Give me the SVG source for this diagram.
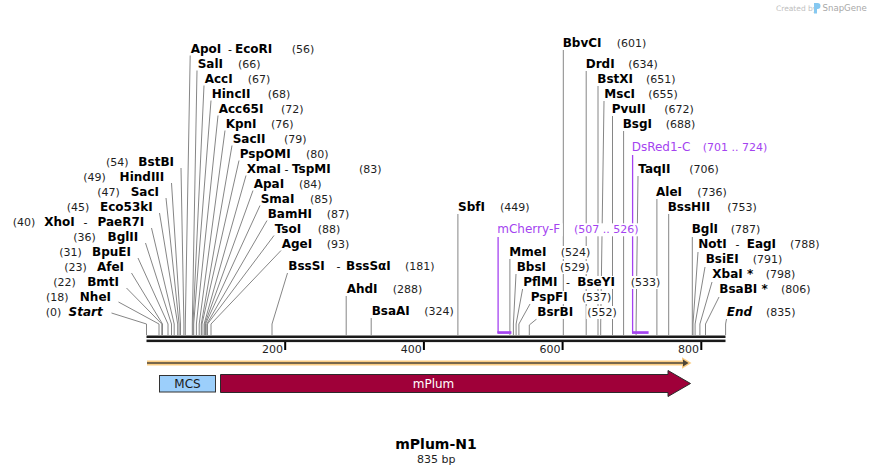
<svg xmlns="http://www.w3.org/2000/svg" width="873" height="475" viewBox="0 0 873 475">
<style>
text{font-family:"DejaVu Sans",Verdana,sans-serif}
.n{font-size:12px;font-weight:bold;fill:#000}
.d{font-size:11px;fill:#1e1e1e}
.e{text-anchor:end}
.m{text-anchor:middle}
.i{font-style:italic}
.p{fill:#a443f0}
.c{stroke:#868686;stroke-width:1;fill:none}
.pl{stroke:#a443f0;stroke-width:1.3;fill:none}
.bg{fill:#fff}
</style>
<rect width="873" height="475" fill="#fff"/>

<g id="watermark">
<text x="776" y="10.5" style="font-size:7.5px;fill:#c0c0c0">Created by</text>
<path d="M814,3 h3.5 a3,3 0 0 1 0,6 h-0.5 v4.5 h-3 z" fill="#86c8f0"/>
<text x="822.5" y="11" style="font-size:8.6px;fill:#a8a8a8">SnapGene</text>
</g>

<g id="connectors">
<path class="c" d="M181,168 L183.9,324 V335"/>
<path class="c" d="M171.5,183 L180.5,324 V335"/>
<path class="c" d="M166,198 L179.1,324 V335"/>
<path class="c" d="M159.5,213 L177.7,324 V335"/>
<path class="c" d="M151.5,228 L174.2,324 V335"/>
<path class="c" d="M145.5,243 L171.5,324 V335"/>
<path class="c" d="M138,258 L168,324 V335"/>
<path class="c" d="M131.5,273 L162.5,324 V335"/>
<path class="c" d="M126.5,288 L161.8,324 V335"/>
<path class="c" d="M118.5,302 L159,324 V335"/>
<path class="c" d="M111.5,313 L146.5,324 V335"/>
<path class="c" d="M190.2,55.5 L185.3,324 V335"/>
<path class="c" d="M197,70.5 L192.3,324 V335"/>
<path class="c" d="M204,85.5 L193,324 V335"/>
<path class="c" d="M211,100.5 L193.7,324 V335"/>
<path class="c" d="M218,115.5 L196.4,324 V335"/>
<path class="c" d="M225,130.5 L199.2,324 V335"/>
<path class="c" d="M232,145.5 L201.3,324 V335"/>
<path class="c" d="M239,160.5 L202,324 V335"/>
<path class="c" d="M246,175.5 L204.1,324 V335"/>
<path class="c" d="M253,190.5 L204.8,324 V335"/>
<path class="c" d="M260,205.5 L205.5,324 V335"/>
<path class="c" d="M267,220.5 L206.8,324 V335"/>
<path class="c" d="M274,235.5 L207.5,324 V335"/>
<path class="c" d="M281,250.5 L211,324 V335"/>
<path class="c" d="M287.5,273 L272,324 V335"/>
<path class="c" d="M346.2,296 V335"/>
<path class="c" d="M371.2,318 V335"/>
<path class="c" d="M457.9,214 V335"/>
<path class="c" d="M509.9,259 V335"/>
<path class="c" d="M516,274 L513.4,324 V335"/>
<path class="c" d="M522.6,289 L516.1,324 V335"/>
<path class="c" d="M530,304 L518.9,324 V335"/>
<path class="c" d="M536.6,319 L529.3,325 V335"/>
<path class="c" d="M563.3,50 V335"/>
<path class="c" d="M586.2,71 V335"/>
<path class="c" d="M598,86 V335"/>
<path class="c" d="M604,101 L600.7,324 V335"/>
<path class="c" d="M612.5,116 V335"/>
<path class="c" d="M623.6,131 V335"/>
<path class="c" d="M638,176 L636.1,324 V335"/>
<path class="c" d="M656.9,199 V335"/>
<path class="c" d="M668.7,214 V335"/>
<path class="c" d="M692.3,237 V335"/>
<path class="c" d="M698,252 L693,324 V335"/>
<path class="c" d="M705,267 L695.1,324 V335"/>
<path class="c" d="M712,282 L699.9,324 V335"/>
<path class="c" d="M719,297 L705.5,324 V335"/>
<path class="c" d="M726.5,319 L725.6,324 V335"/>
<path class="pl" d="M498.1,237 V333"/>
<rect x="497.4" y="331.2" width="14" height="2.7" fill="#a443f0"/>
<path class="pl" d="M632.6,155 V333"/>
<rect x="632" y="331.2" width="16.6" height="2.7" fill="#a443f0"/>
</g>

<g id="sequence">
<rect x="146.5" y="335.5" width="579" height="2.5" fill="#1a1a1a"/>
<rect x="146.5" y="339.6" width="579" height="2.5" fill="#1a1a1a"/>
<rect x="284.2" y="342" width="2" height="8" fill="#000"/>
<rect x="422.9" y="342" width="2" height="8" fill="#000"/>
<rect x="561.6" y="342" width="2" height="8" fill="#000"/>
<rect x="700.3" y="342" width="2" height="8" fill="#000"/>
<text class="d e" x="283" y="352.5">200</text>
<text class="d e" x="421.7" y="352.5">400</text>
<text class="d e" x="560.4" y="352.5">600</text>
<text class="d e" x="699.1" y="352.5">800</text>
</g>

<g id="orf">
<path d="M147,363 H684" stroke="#fbcd83" stroke-width="5" fill="none"/>
<polygon points="682,357.3 691.5,363 682,368.7" fill="#fbcd83"/>
<path d="M147,363 H684" stroke="#4d4538" stroke-width="1.5" fill="none"/>
<polygon points="683,359.6 688.6,363 683,366.4" fill="#4d4538"/>
</g>

<g id="feature-MCS">
<rect x="159.5" y="375.5" width="56" height="16.5" fill="#9ccffb" stroke="#333" stroke-width="1"/>
<text class="m" x="187.5" y="388" style="font-size:12px;fill:#1a1a1a">MCS</text>
</g>
<g id="feature-mPlum">
<polygon points="220.5,374.5 668,374.5 668,370.5 690.5,383.5 668,396.5 668,392.5 220.5,392.5" fill="#9f0039" stroke="#2a2a2a" stroke-width="1"/>
<text class="m" x="433.5" y="388" style="font-size:12px;fill:#fff">mPlum</text>
</g>

<g id="e-BstBI"><text class="d" x="106" y="165.5">(54)</text><text class="n e" x="174" y="165.5">BstBI</text></g>
<g id="e-HindIII"><text class="d" x="83.3" y="180.5">(49)</text><text class="n e" x="164.3" y="180.5">HindIII</text></g>
<g id="e-SacI"><text class="d" x="97.3" y="195.5">(47)</text><text class="n e" x="159" y="195.5">SacI</text></g>
<g id="e-Eco53kI"><text class="d" x="66.7" y="210.5">(45)</text><text class="n e" x="152.7" y="210.5">Eco53kI</text></g>
<g id="e-XhoI"><text class="d" x="12.7" y="225.5">(40)</text><text class="n" x="44.3" y="225.5">XhoI</text><text class="d" x="83.5" y="225.5" style="fill:#000">-</text><text class="n e" x="144.3" y="225.5">PaeR7I</text></g>
<g id="e-BglII"><text class="d" x="73.3" y="240.5">(36)</text><text class="n e" x="138.3" y="240.5">BglII</text></g>
<g id="e-BpuEI"><text class="d" x="59.3" y="255.5">(31)</text><text class="n e" x="131" y="255.5">BpuEI</text></g>
<g id="e-AfeI"><text class="d" x="64.3" y="270.5">(23)</text><text class="n e" x="124" y="270.5">AfeI</text></g>
<g id="e-BmtI"><text class="d" x="53.3" y="285.5">(22)</text><text class="n e" x="119" y="285.5">BmtI</text></g>
<g id="e-NheI"><text class="d" x="46" y="300.5">(18)</text><text class="n e" x="111" y="300.5">NheI</text></g>
<g id="e-Start"><text class="d" x="45.7" y="315.5">(0)</text><text class="n e i" x="102.7" y="315.5">Start</text></g>

<g id="e-ApoI"><text class="n" x="190.7" y="52.5">ApoI</text><text class="d" x="228" y="52.5" style="fill:#000">-</text><text class="n" x="235" y="52.5">EcoRI</text><text class="d" x="291.7" y="52.5">(56)</text></g>
<g id="e-SalI"><text class="n" x="197.7" y="67.5">SalI</text><text class="d" x="238" y="67.5">(66)</text></g>
<g id="e-AccI"><text class="n" x="204.7" y="82.5">AccI</text><text class="d" x="247.7" y="82.5">(67)</text></g>
<g id="e-HincII"><text class="n" x="211.7" y="97.5">HincII</text><text class="d" x="267.7" y="97.5">(68)</text></g>
<g id="e-Acc65I"><text class="n" x="218.7" y="112.5">Acc65I</text><text class="d" x="281" y="112.5">(72)</text></g>
<g id="e-KpnI"><text class="n" x="225.7" y="127.5">KpnI</text><text class="d" x="271" y="127.5">(76)</text></g>
<g id="e-SacII"><text class="n" x="232.7" y="142.5">SacII</text><text class="d" x="284" y="142.5">(79)</text></g>
<g id="e-PspOMI"><text class="n" x="239.7" y="157.5">PspOMI</text><text class="d" x="306" y="157.5">(80)</text></g>
<g id="e-XmaI"><text class="n" x="246.7" y="172.5">XmaI</text><text class="d" x="284.5" y="172.5" style="fill:#000">-</text><text class="n" x="292" y="172.5">TspMI</text><text class="d" x="359" y="172.5">(83)</text></g>
<g id="e-ApaI"><text class="n" x="253.7" y="187.5">ApaI</text><text class="d" x="299" y="187.5">(84)</text></g>
<g id="e-SmaI"><text class="n" x="260.7" y="202.5">SmaI</text><text class="d" x="310" y="202.5">(85)</text></g>
<g id="e-BamHI"><text class="n" x="267.7" y="217.5">BamHI</text><text class="d" x="326.7" y="217.5">(87)</text></g>
<g id="e-TsoI"><text class="n" x="274.7" y="232.5">TsoI</text><text class="d" x="317.7" y="232.5">(88)</text></g>
<g id="e-AgeI"><text class="n" x="281.7" y="247.5">AgeI</text><text class="d" x="326.7" y="247.5">(93)</text></g>

<g id="e-BssSI"><rect class="bg" x="287.3" y="260" width="38.7" height="13"/><rect class="bg" x="345" y="260" width="47.7" height="13"/><rect class="bg" x="404" y="260" width="31" height="13"/><text class="n" x="288.3" y="270">BssSI</text><text class="d" x="336.5" y="270" style="fill:#000">-</text><text class="n" x="346" y="270">BssSαI</text><text class="d" x="405" y="270">(181)</text></g>
<g id="e-AhdI"><rect class="bg" x="345.7" y="283" width="33.6" height="13"/><rect class="bg" x="391.7" y="283" width="31.3" height="13"/><text class="n" x="346.7" y="293">AhdI</text><text class="d" x="392.7" y="293">(288)</text></g>
<g id="e-BsaAI"><rect class="bg" x="370.7" y="305" width="40.3" height="13"/><rect class="bg" x="423.3" y="305" width="31.7" height="13"/><text class="n" x="371.7" y="315">BsaAI</text><text class="d" x="424.3" y="315">(324)</text></g>
<g id="e-SbfI"><rect class="bg" x="457" y="201" width="30" height="13"/><rect class="bg" x="499" y="201" width="32" height="13"/><text class="n" x="458" y="211">SbfI</text><text class="d" x="500" y="211">(449)</text></g>

<g id="p-mCherry-F"><rect class="bg" x="496.3" y="223.3" width="66.4" height="13"/><rect class="bg" x="573" y="223.3" width="68" height="13"/><text class="p" x="497.3" y="233.3" style="font-size:12px">mCherry-F</text><text class="d p" x="574" y="233.3">(507 .. 526)</text></g>
<g id="e-MmeI"><rect class="bg" x="508.3" y="246" width="30.4" height="13"/><rect class="bg" x="559.7" y="246" width="31.3" height="13"/><text class="n" x="509.3" y="256">MmeI</text><text class="d" x="560.7" y="256">(524)</text></g>
<g id="e-BbsI"><rect class="bg" x="515.7" y="261" width="32" height="13"/><rect class="bg" x="559" y="261" width="31" height="13"/><text class="n" x="516.7" y="271">BbsI</text><text class="d" x="560" y="271">(529)</text></g>
<g id="e-PflMI"><rect class="bg" x="522.3" y="276" width="37" height="13"/><rect class="bg" x="565" y="276" width="6" height="13"/><rect class="bg" x="576.3" y="276" width="40.7" height="13"/><rect class="bg" x="629.7" y="276" width="31.3" height="13"/><text class="n" x="523.3" y="286">PflMI</text><text class="d" x="566" y="286" style="fill:#000">-</text><text class="n" x="577.3" y="286">BseYI</text><text class="d" x="630.7" y="286">(533)</text></g>
<g id="e-PspFI"><rect class="bg" x="529.7" y="291" width="41.3" height="13"/><rect class="bg" x="580.7" y="291" width="31.3" height="13"/><text class="n" x="530.7" y="301">PspFI</text><text class="d" x="581.7" y="301">(537)</text></g>
<g id="e-BsrBI"><rect class="bg" x="536.3" y="306" width="39" height="13"/><rect class="bg" x="586.3" y="306" width="31.7" height="13"/><text class="n" x="537.3" y="316">BsrBI</text><text class="d" x="587.3" y="316">(552)</text></g>
<g id="e-BbvCI"><rect class="bg" x="561.7" y="36.5" width="41.3" height="13"/><rect class="bg" x="615.7" y="36.5" width="31.3" height="13"/><text class="n" x="562.7" y="46.5">BbvCI</text><text class="d" x="616.7" y="46.5">(601)</text></g>
<g id="e-DrdI"><rect class="bg" x="584.7" y="57.7" width="32" height="13"/><rect class="bg" x="627.3" y="57.7" width="31.7" height="13"/><text class="n" x="585.7" y="67.7">DrdI</text><text class="d" x="628.3" y="67.7">(634)</text></g>
<g id="e-BstXI"><rect class="bg" x="596.3" y="72.7" width="38.7" height="13"/><rect class="bg" x="645" y="72.7" width="32" height="13"/><text class="n" x="597.3" y="82.7">BstXI</text><text class="d" x="646" y="82.7">(651)</text></g>
<g id="e-MscI"><rect class="bg" x="603.3" y="87.7" width="33.4" height="13"/><rect class="bg" x="647.3" y="87.7" width="31.7" height="13"/><text class="n" x="604.3" y="97.7">MscI</text><text class="d" x="648.3" y="97.7">(655)</text></g>
<g id="e-PvuII"><rect class="bg" x="610.7" y="102.7" width="38.6" height="13"/><rect class="bg" x="663.3" y="102.7" width="31.7" height="13"/><text class="n" x="611.7" y="112.7">PvuII</text><text class="d" x="664.3" y="112.7">(672)</text></g>
<g id="e-BsgI"><rect class="bg" x="621.7" y="117.7" width="32" height="13"/><rect class="bg" x="664.7" y="117.7" width="31.3" height="13"/><text class="n" x="622.7" y="127.7">BsgI</text><text class="d" x="665.7" y="127.7">(688)</text></g>
<g id="p-DsRed1-C"><rect class="bg" x="630.7" y="141" width="60.3" height="13"/><rect class="bg" x="701.7" y="141" width="68.6" height="13"/><text class="p" x="631.7" y="151" style="font-size:12px">DsRed1-C</text><text class="d p" x="702.7" y="151">(701 .. 724)</text></g>
<g id="e-TaqII"><rect class="bg" x="637.3" y="162.5" width="38.7" height="13"/><rect class="bg" x="688.3" y="162.5" width="31.7" height="13"/><text class="n" x="638.3" y="172.5">TaqII</text><text class="d" x="689.3" y="172.5">(706)</text></g>
<g id="e-AleI"><rect class="bg" x="655" y="186" width="29" height="13"/><rect class="bg" x="696.3" y="186" width="31.7" height="13"/><text class="n" x="656" y="196">AleI</text><text class="d" x="697.3" y="196">(736)</text></g>
<g id="e-BssHII"><rect class="bg" x="666.7" y="201" width="47" height="13"/><rect class="bg" x="726.3" y="201" width="31.7" height="13"/><text class="n" x="667.7" y="211">BssHII</text><text class="d" x="727.3" y="211">(753)</text></g>
<g id="e-BglI"><rect class="bg" x="690.7" y="223.3" width="29" height="13"/><rect class="bg" x="729.7" y="223.3" width="31.3" height="13"/><text class="n" x="691.7" y="233.3">BglI</text><text class="d" x="730.7" y="233.3">(787)</text></g>
<g id="e-NotI"><rect class="bg" x="697.3" y="238.3" width="32" height="13"/><rect class="bg" x="734" y="238.3" width="6" height="13"/><rect class="bg" x="745.7" y="238.3" width="32" height="13"/><rect class="bg" x="789" y="238.3" width="32" height="13"/><text class="n" x="698.3" y="248.3">NotI</text><text class="d" x="735.5" y="248.3" style="fill:#000">-</text><text class="n" x="746.7" y="248.3">EagI</text><text class="d" x="790" y="248.3">(788)</text></g>
<g id="e-BsiEI"><rect class="bg" x="704.7" y="253.3" width="35.6" height="13"/><rect class="bg" x="751.7" y="253.3" width="31.3" height="13"/><text class="n" x="705.7" y="263.3">BsiEI</text><text class="d" x="752.7" y="263.3">(791)</text></g>
<g id="e-XbaI"><rect class="bg" x="711.3" y="268.3" width="44" height="13"/><rect class="bg" x="764.7" y="268.3" width="31.3" height="13"/><text class="n" x="712.3" y="278.3">XbaI *</text><text class="d" x="765.7" y="278.3">(798)</text></g>
<g id="e-BsaBI"><rect class="bg" x="718.3" y="283.3" width="50.4" height="13"/><rect class="bg" x="780" y="283.3" width="32" height="13"/><text class="n" x="719.3" y="293.3">BsaBI *</text><text class="d" x="781" y="293.3">(806)</text></g>
<g id="e-End"><rect class="bg" x="725.7" y="305.7" width="25.3" height="13"/><rect class="bg" x="765" y="305.7" width="32" height="13"/><text class="n i" x="726.7" y="315.7">End</text><text class="d" x="766" y="315.7">(835)</text></g>

<g id="title">
<text class="m" x="436" y="449" style="font-size:14px;font-weight:bold;fill:#000">mPlum-N1</text>
<text class="m d" x="436.3" y="463" style="fill:#1e1e1e">835 bp</text>
</g>
</svg>
